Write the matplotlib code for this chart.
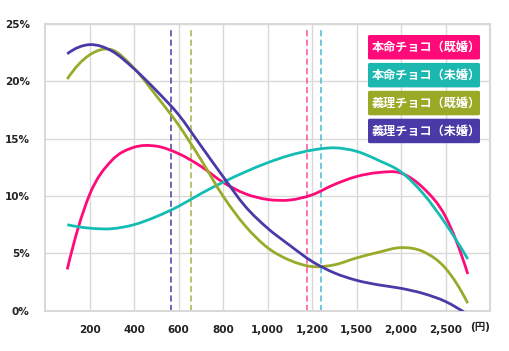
import numpy as np
import matplotlib
matplotlib.use('Agg')
import matplotlib.pyplot as plt
from matplotlib.path import Path
from matplotlib.patches import PathPatch, FancyBboxPatch

plt.rcParams['font.family'] = ['Noto Sans CJK JP', 'DejaVu Sans']

# category positions (1 = 200円 ... 9 = 2,500円)
pos = [0.5, 1, 1.5, 2, 2.5, 3, 3.5, 4, 4.5, 5, 5.5, 6, 6.5, 7, 7.5, 8, 8.5, 9, 9.5]
tick_pos = [1, 2, 3, 4, 5, 6, 7, 8, 9]
tick_labels = ['200', '400', '600', '800', '1,000', '1,200', '1,500', '2,000', '2,500']

# share of respondents (%)
honmei_kikon = [3.6, 10.1, 13.1, 14.25, 14.35, 13.7, 12.6, 11.2, 10.2, 9.7, 9.65, 10.1, 11.0, 11.7, 12.05, 12.0, 10.7, 8.2, 3.2]
honmei_mikon = [7.5, 7.2, 7.15, 7.5, 8.2, 9.1, 10.2, 11.2, 12.1, 12.9, 13.55, 14.0, 14.2, 13.9, 13.1, 12.1, 10.2, 7.6, 4.5]
giri_kikon = [20.2, 22.3, 22.75, 21.15, 18.75, 16.2, 13.2, 10.0, 7.4, 5.5, 4.4, 3.85, 4.0, 4.6, 5.1, 5.5, 5.15, 3.7, 0.65]
giri_mikon = [22.4, 23.2, 22.65, 21.1, 19.2, 17.1, 14.4, 11.7, 9.1, 7.2, 5.7, 4.3, 3.3, 2.65, 2.25, 1.95, 1.5, 0.8, -0.35]

# averages (category position)
avg_honmei_kikon = 5.88
avg_honmei_mikon = 6.2
avg_giri_kikon = 3.28
avg_giri_mikon = 2.83

labels = ['本命チョコ（既婚）', '本命チョコ（未婚）', '義理チョコ（既婚）', '義理チョコ（未婚）']
colors = ['#FF0A78', '#14BDB4', '#9AAA2A', '#4A3AA8']
box_colors = ['#FF0A78', '#1CB8B0', '#9AAA27', '#4A3AA8']
dash_colors = ['#FF4D9E', '#4DB8D2', '#A6B244', '#4A3AA8']


def smooth_path(x, y):
    # Catmull-Rom curve through the points, drawn as cubic bezier segments
    pts = np.column_stack([x, y])
    n = len(pts)
    first = 3 * pts[0] - 3 * pts[1] + pts[2]
    last = 3 * pts[-1] - 3 * pts[-2] + pts[-3]
    ext = np.vstack([first, pts, last])
    verts = [pts[0]]
    codes = [Path.MOVETO]
    for i in range(1, n):
        p0, p1, p2, p3 = ext[i - 1], ext[i], ext[i + 1], ext[i + 2]
        verts += [p1 + (p2 - p0) / 6, p2 - (p3 - p1) / 6, p2]
        codes += [Path.CURVE4] * 3
    return Path(verts, codes)


fig = plt.figure(figsize=(5.09, 3.51), dpi=100)
ax = fig.add_axes([45 / 509, 1 - 310.7 / 351, 445 / 509, 286.7 / 351])

series = [honmei_kikon, honmei_mikon, giri_kikon, giri_mikon]
avgs = [avg_honmei_kikon, avg_honmei_mikon, avg_giri_kikon, avg_giri_mikon]

for a, c in zip(avgs, dash_colors):
    ax.axvline(a, ymax=0.99, color=c, lw=1.1, dashes=(4, 2.2), zorder=2)

for vals, c in zip(series, colors):
    patch = PathPatch(smooth_path(pos, vals), fill=False, edgecolor=c, lw=2.0,
                      capstyle='butt', zorder=3)
    ax.add_patch(patch)

ax.set_xlim(0, 10)
ax.set_ylim(0, 25)
ax.set_xticks(tick_pos)
ax.set_xticklabels(tick_labels)
ax.set_yticks([0, 5, 10, 15, 20, 25])
ax.set_yticklabels(['0%', '5%', '10%', '15%', '20%', '25%'])
ax.grid(True, color='#D9D9D9', lw=1)
ax.set_axisbelow(True)
for s in ax.spines.values():
    s.set_color('#D9D9D9')
    s.set_linewidth(1.5)
ax.tick_params(length=0, labelsize=7.5, colors='#222222')
ax.tick_params(axis='x', pad=10)
ax.tick_params(axis='y', pad=11)
for t in ax.get_xticklabels() + ax.get_yticklabels():
    t.set_fontweight('bold')
    t.set_family(['DejaVu Sans'])

fig.text(480 / 509, 1 - 326.5 / 351, '(円)', ha='center', va='center',
         fontsize=7.5, fontweight='bold', color='#222222',
         family=['DejaVu Sans', 'Noto Sans CJK JP'])

# legend boxes
for i, (lab, c) in enumerate(zip(labels, box_colors)):
    top = 35 + i * 27.9
    box = FancyBboxPatch((368 / 509, 1 - (top + 24.5) / 351), 112 / 509, 24.5 / 351,
                         boxstyle='round,pad=0,rounding_size=0.004',
                         transform=fig.transFigure, facecolor=c, edgecolor='none', zorder=5)
    fig.patches.append(box)
    fig.text(426 / 509, 1 - (top + 12.5) / 351, lab, ha='center', va='center',
             fontsize=8.7, fontweight='bold', color='white', zorder=6)

fig.savefig('out.png', dpi=100)
